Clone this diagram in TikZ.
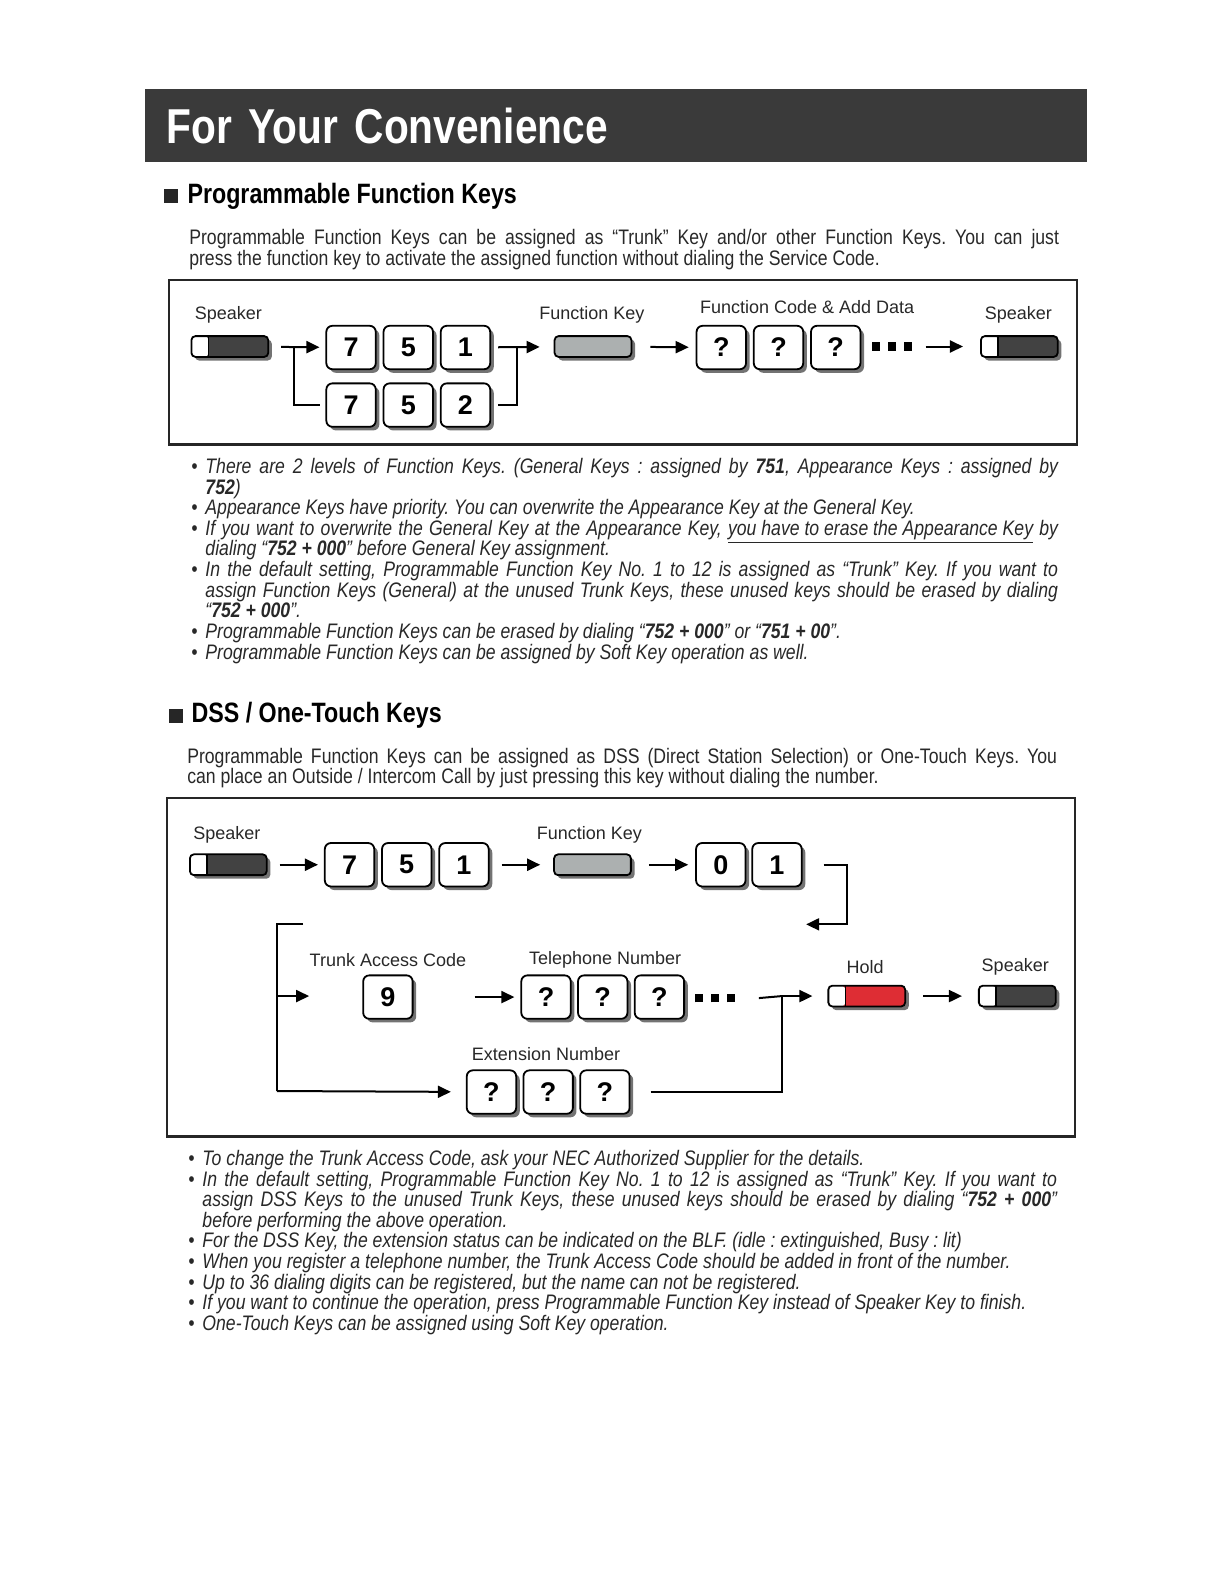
\documentclass[tikz,border=0pt]{standalone}
\usepackage{fontspec}
\setmainfont{Liberation Sans}
\newfontfamily\narrowfont{Liberation Sans}[FakeStretch=0.84]
\newfontfamily\titlefont{Liberation Sans}[FakeStretch=0.83]
\usetikzlibrary{positioning,arrows.meta,shadows}
\frenchspacing

\definecolor{barfill}{RGB}{58,58,58}
\definecolor{spkdark}{RGB}{66,66,66}
\definecolor{fngray}{RGB}{172,176,176}
\definecolor{holdred}{RGB}{222,45,52}
\definecolor{inkgray}{RGB}{40,40,40}

\newcommand{\bitem}{\par\noindent\llap{\textbullet\hspace{4pt}}}
\newcommand{\dotrow}{\rule{4.25pt}{4.25pt}\hspace{3.75pt}\rule{4.25pt}{4.25pt}\hspace{3.75pt}\rule{4.25pt}{4.25pt}}
\newcommand{\flatul}[1]{\smash{\underline{#1}}}

\tikzset{
  keyshadow/.style={drop shadow={shadow xshift=1.8pt, shadow yshift=-1.8pt, fill=black!55, opacity=1}},
  key/.style={draw=black, line width=0.9pt, fill=white, rounded corners=3pt,
    minimum width=24.7pt, minimum height=21.7pt, inner sep=0pt,
    font=\fontsize{13.5}{14}\selectfont\bfseries, keyshadow},
  pad/.style={draw=black, line width=0.9pt, rounded corners=2pt,
    minimum width=38.4pt, minimum height=10.4pt, inner sep=0pt, keyshadow},
  litkey/.style={pad, fill=#1, path picture={
    \fill[white] (path picture bounding box.south west) rectangle ([xshift=8.5pt]path picture bounding box.north west);
    \draw[line width=0.8pt] ([xshift=8.5pt]path picture bounding box.south west) -- ([xshift=8.5pt]path picture bounding box.north west);}},
  spkkey/.style={litkey=spkdark},
  holdkey/.style={litkey=holdred},
  fnkey/.style={pad, fill=fngray},
  dots/.style={inner sep=0pt},
  lbl/.style={font=\fontsize{9}{10}\selectfont, text=inkgray, inner sep=0pt},
  frame/.style={draw=black!85, line width=1.1pt},
  ln/.style={line width=1pt},
  arr/.style={-{Triangle[length=6.5pt,width=6pt]}, line width=1pt, shorten <=6pt, shorten >=3pt},
  para/.style={font=\narrowfont\fontsize{10.5}{10.4}\selectfont, text=inkgray, align=justify, inner sep=0pt, anchor=north west},
  notes/.style={para, font=\narrowfont\itshape\fontsize{10.5}{10.3}\selectfont},
  head/.style={font=\titlefont\bfseries\fontsize{14}{16}\selectfont, inner sep=0pt, anchor=west},
  sqmark/.style={fill=black!85, minimum size=7pt, inner sep=0pt}
}

\begin{document}
\begin{tikzpicture}[x=0.505pt, y=-0.505pt]
  \useasboundingbox (0,0) rectangle (1212,1568);

  % Title bar
  \node[fill=barfill, anchor=north west, minimum height=36.4pt, text width=449pt, inner xsep=11pt,
        font=\titlefont\bfseries\fontsize{24.5}{26}\selectfont, text=white] (title) at (143,88) {For Your Convenience};

  % Section 1
  \node[sqmark] (sq1) at (169,194.5) {};
  \node[head, right=4.5pt of sq1] (head1) {Programmable Function Keys};
  \node[para, text width=434.8pt] (intro1) at (187,227)
    {Programmable Function Keys can be assigned as “Trunk” Key and/or other Function Keys. You can just\linebreak
     press the function key to activate the assigned function without dialing the Service Code.};

  \draw[frame] (167,277) rectangle (1066,440);

  \node[lbl] (lspkA) at (226,312) {Speaker};
  \node[spkkey] (spkA) at (227.5,343) {};
  \node[key] (a7) at (347.5,344) {7};
  \node[key, right=3pt of a7] (a5) {5};
  \node[key, right=3pt of a5] (a1) {1};
  \node[key] (b7) at (347.5,401) {7};
  \node[key, right=3pt of b7] (b5) {5};
  \node[key, right=3pt of b5] (b2) {2};
  \coordinate (forkA) at (291,344);
  \coordinate (forkB) at (512,344);
  \node[lbl] (lfnA) at (586,312) {Function Key};
  \node[fnkey] (fnA) at (587,343) {};
  \node[lbl] (lcode) at (799,304) {Function Code \& Add Data};
  \node[key] (qa) at (714,344) {?};
  \node[key, right=3pt of qa] (qb) {?};
  \node[key, right=3pt of qb] (qc) {?};
  \node[dots] (dotsA) at (883,343) {\dotrow};
  \node[lbl] (lspkB) at (1008,312) {Speaker};
  \node[spkkey] (spkB) at (1009,343) {};

  \draw[arr] (spkA) -- (a7);
  \draw[ln] (forkA) |- ([xshift=-2.5pt]b7.west);
  \draw[arr, shorten <=3.5pt, shorten >=7pt] (a1) -- (fnA);
  \draw[ln] ([xshift=3.5pt]b2.east) -| (forkB);
  \draw[arr, shorten <=9pt, shorten >=3.5pt] (fnA) -- (qa);
  \draw[arr, shorten <=6.5pt, shorten >=8.5pt] (dotsA) -- (spkB);

  % notes 1
  \node[notes, text width=426.2pt] (notes1) at (203,448) {%
    \bitem There are 2 levels of Function Keys. (General Keys : assigned by \textbf{751}, Appearance Keys : assigned by\linebreak
      \textbf{752})
    \bitem Appearance Keys have priority. You can overwrite the Appearance Key at the General Key.
    \bitem If you want to overwrite the General Key at the Appearance Key, \flatul{you have to erase the Appearance Key} by\linebreak
      dialing “\textbf{752 + 000}” before General Key assignment.
    \bitem In the default setting, Programmable Function Key No. 1 to 12 is assigned as “Trunk” Key. If you want to\linebreak
      assign Function Keys (General) at the unused Trunk Keys, these unused keys should be erased by dialing\linebreak
      “\textbf{752 + 000}”.
    \bitem Programmable Function Keys can be erased by dialing “\textbf{752 + 000}” or “\textbf{751 + 00}”.
    \bitem Programmable Function Keys can be assigned by Soft Key operation as well.};

  % Section 2
  \node[sqmark] (sq2) at (174,708.5) {};
  \node[head, right=4pt of sq2] (head2) {DSS / One-Touch Keys};
  \node[para, text width=434.8pt] (intro2) at (185,740)
    {Programmable Function Keys can be assigned as DSS (Direct Station Selection) or One-Touch Keys. You\linebreak
     can place an Outside / Intercom Call by just pressing this key without dialing the number.};

  \draw[frame] (165,790) rectangle (1064,1125);

  \node[lbl] (lspkC) at (224.5,826) {Speaker};
  \node[spkkey] (spkC) at (226,856) {};
  \node[key] (c7) at (346,856) {7};
  \node[key, right=3pt of c7] (c5) {5};
  \node[key, right=3pt of c5] (c1) {1};
  \node[lbl] (lfnC) at (583.5,826) {Function Key};
  \node[fnkey] (fnC) at (586.5,856) {};
  \node[key] (d0) at (713.5,856) {0};
  \node[key, right=2.5pt of d0] (d1) {1};
  \coordinate (rbD) at (838,915);
  \coordinate (backC) at (798,915);

  \draw[arr] (spkC) -- (c7);
  \draw[arr, shorten >=6.5pt] (c1) -- (fnC);
  \draw[arr, shorten <=8.5pt, shorten >=3.5pt] (fnC) -- (d0);
  \draw[arr, shorten <=0pt, shorten >=0pt] ([xshift=10.5pt]d1.east) -| (rbD) -- (backC);

  \coordinate (lbTop) at (300,915);
  \coordinate (lbMid) at (274,986);
  \coordinate (tacIn) at (306,986);
  \coordinate (lbBot) at (274,1080);
  \draw[ln] (lbTop) -| (lbBot);
  \draw[arr, shorten <=0pt, shorten >=0pt] (lbMid) -- (tacIn);

  \node[lbl] (ltac) at (384,950) {Trunk Access Code};
  \node[key] (k9) at (384,987) {9};
  \node[lbl] (ltel) at (599,950) {Telephone Number};
  \node[key] (t1) at (540.5,987) {?};
  \node[key, right=2.75pt of t1] (t2) {?};
  \node[key, right=2.75pt of t2] (t3) {?};
  \node[dots] (dotsB) at (708,988) {\dotrow};
  \coordinate (jn) at (774,986);
  \node[lbl] (lhold) at (856.5,957) {Hold};
  \node[holdkey] (hold) at (858,986) {};
  \node[lbl] (lspkD) at (1005,957) {Speaker};
  \node[spkkey] (spkD) at (1007,986) {};
  \node[lbl] (lext) at (540.5,1043) {Extension Number};
  \node[key] (e1) at (486.5,1081) {?};
  \node[key, right=2.75pt of e1] (e2) {?};
  \node[key, right=2.75pt of e2] (e3) {?};

  \draw[arr, shorten <=30.5pt] (k9) -- (t1);
  \draw[ln] ([xshift=11.5pt]dotsB.east) -- (jn);
  \draw[arr, shorten <=0pt, shorten >=7.5pt] (jn) -- (hold);
  \draw[ln] ([xshift=10pt]e3.east) -| (jn);
  \draw[arr, shorten <=8.5pt, shorten >=8pt] (hold) -- (spkD);
  \draw[arr, shorten <=0pt, shorten >=7.5pt] (lbBot) -- (e1);

  % notes 2
  \node[notes, text width=427.2pt] (notes2) at (200,1133) {%
    \bitem To change the Trunk Access Code, ask your NEC Authorized Supplier for the details.
    \bitem In the default setting, Programmable Function Key No. 1 to 12 is assigned as “Trunk” Key. If you want to\linebreak
      assign DSS Keys to the unused Trunk Keys, these unused keys should be erased by dialing “\textbf{752 + 000}”\linebreak
      before performing the above operation.
    \bitem For the DSS Key, the extension status can be indicated on the BLF. (idle : extinguished, Busy : lit)
    \bitem When you register a telephone number, the Trunk Access Code should be added in front of the number.
    \bitem Up to 36 dialing digits can be registered, but the name can not be registered.
    \bitem If you want to continue the operation, press Programmable Function Key instead of Speaker Key to finish.
    \bitem One-Touch Keys can be assigned using Soft Key operation.};
\end{tikzpicture}
\end{document}
